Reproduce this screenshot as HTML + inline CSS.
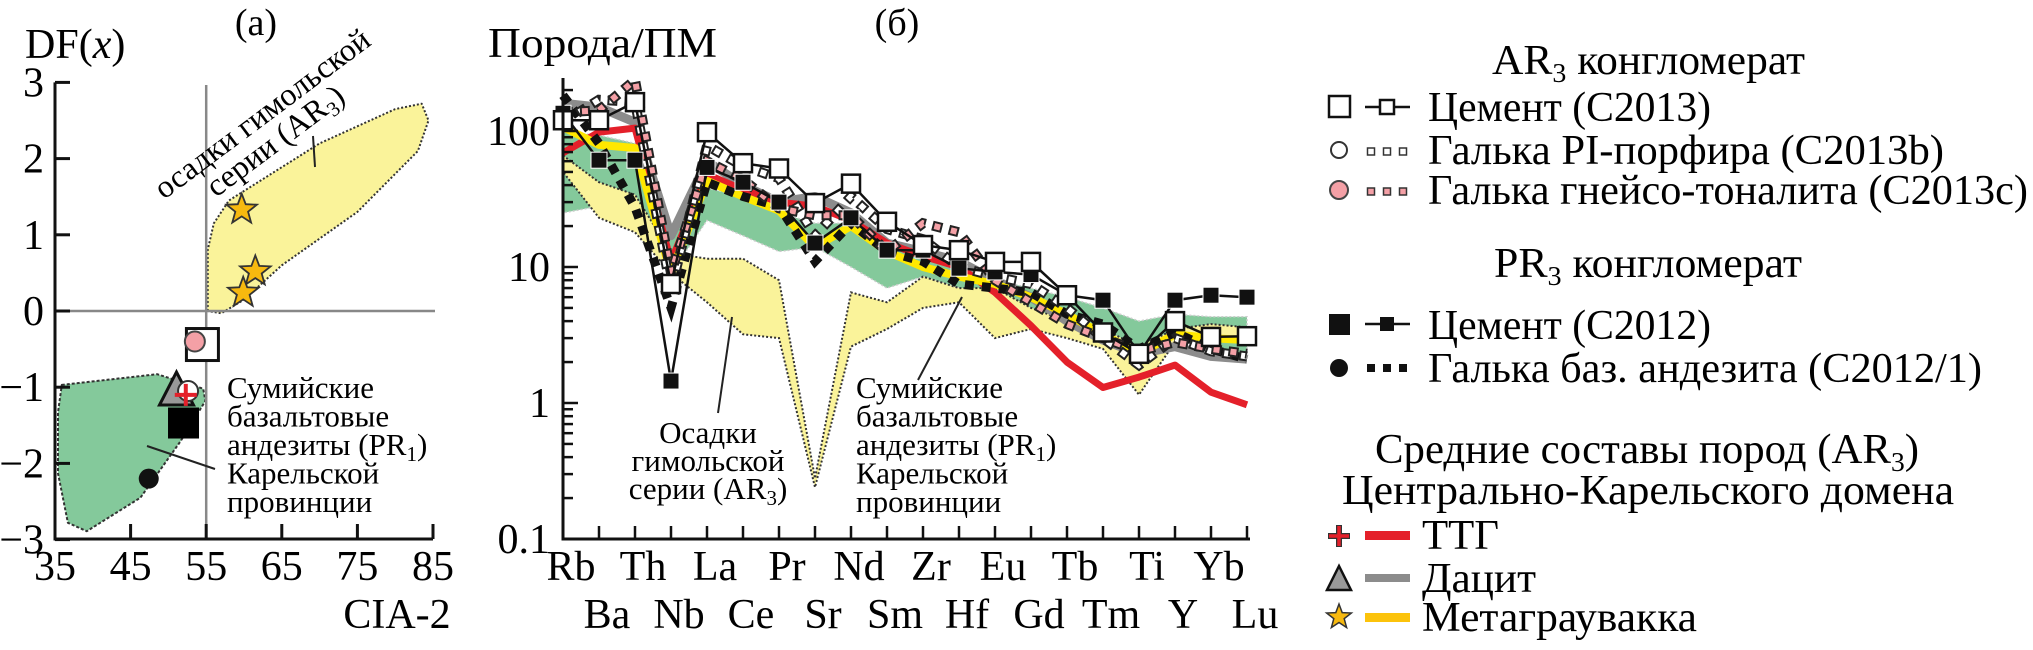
<!DOCTYPE html>
<html><head><meta charset="utf-8"><style>
html,body{margin:0;padding:0;background:#fff;}
svg, svg text{font-family:"Liberation Serif","DejaVu Serif","Noto Serif CJK SC",serif;}
</style></head><body>
<svg id="fig" width="2033" height="645" viewBox="0 0 2033 645" xmlns="http://www.w3.org/2000/svg" font-family="Liberation Serif, DejaVu Serif, serif">
<g id="pa"></g>
<g id="pb"></g>
<g id="lg"></g>
</svg>
<script>
// ---------- Panel (a) data ----------
const aXTicks = [35,45,55,65,75,85];
const aYTicks = [3,2,1,0,-1,-2,-3];
const yellowFieldA = [[55.2,0],[55.2,0.8],[56,1.15],[58,1.45],[70,2.2],[80,2.65],[83.5,2.72],[84.4,2.5],[83,2.1],[75,1.3],[65,0.6],[60,0.15],[57,-0.03]];
const greenFieldA = [[35.9,-0.97],[48.5,-0.83],[54.6,-1.02],[54.9,-1.18],[51.6,-1.71],[46.3,-2.45],[39.2,-2.89],[36.7,-2.78],[35.4,-2.13],[35.4,-1.33]];
const starsA = [[59.7,1.33],[61.5,0.52],[59.9,0.24]];
const openSquareA = [54.5,-0.44];
const pinkCircleA = [53.5,-0.4];
const triangleA = [51.2,-1.05];
const openCircleA = [52.6,-1.05];
const crossA = [52.3,-1.1];
const blackSquareA = [52,-1.47];
const blackCircleA = [47.4,-2.2];

// ---------- Panel (b) data ----------
const elements = ["Rb","Ba","Th","Nb","La","Ce","Pr","Sr","Nd","Sm","Zr","Hf","Eu","Gd","Tb","Tm","Ti","Y","Yb","Lu"];
const cement2013 = [120,120,163,7.5,98,58,53,29.5,41,21.5,14.5,13.3,10.9,10.9,6.2,3.3,2.3,4.0,3.06,3.1];
const cement2012 = [135,61,61,1.45,54,42,30,15,23,13.3,13.3,9.8,9.2,8.8,6.2,5.7,2.3,5.7,6.2,6.0];
const porphyry = [116,170,163,6.8,78,55,45,17,33,19,16,10,8.5,7.5,5,3,1.9,3,2.4,2.2];
const tonalite = [137,142,237,9,60,44,27,24,24,13,21,18,8,5.5,3.8,3.0,2.4,2.8,2.5,2.3];
const andesite = [183,81,27.5,5,42,33,28,11,21,13,11,7.5,7,6.5,4.5,3.8,2.5,3.3,2.5,2.1];
const ttg = [69,98,105,11,48,37,30,28,22,15,12,10,6.5,3.7,2.0,1.3,1.55,1.9,1.2,0.97];
const dacite = [160,150,116,17,60,40,30,33,25,15,13,11,8,6,4,2.9,2.3,2.6,2.2,2.1];
const graywacke = [107,79,75,9,43,33,26,14,20,13,10,8.5,7.5,6,4.5,3.2,2.3,3.2,3,2.9];
const greenUpper = [98,93,81,17,38,33,25,21,21,14,12,11,8,7,6,5,4,4.5,4.3,4.3];
const greenLower = [25,28,27,9,22,17,13,14,10,7,8.5,7,3.5,5,3.5,2.5,2.2,3,2.5,2.2];
const yellowUpper = [66,42,34,12.7,11.5,11.5,8,0.28,6.5,5.5,8.5,7,7,5,4,3.5,2.6,3.5,3.8,3.6];
const yellowLower = [50,23,18,9,5.5,3.2,3.0,0.24,2.6,3.5,5,5.5,3,3.5,3,2.5,1.15,2.8,2.9,2.8];
const yMajorTicks = [0.1,1,10,100];
const yTickLabels = ["0.1","1","10","100"];

const NS="http://www.w3.org/2000/svg";
const FF="Liberation Serif, DejaVu Serif, serif";
function mk(parent,tag,attrs,text){const e=document.createElementNS(NS,tag);for(const k in attrs)e.setAttribute(k,attrs[k]);if(tag==='text')e.setAttribute('font-family',FF);if(text!==undefined)e.textContent=text;parent.appendChild(e);return e;}

// ---------- Panel (a) ----------
const pa=document.getElementById('pa');
const ax=v=>55+(v-35)*7.56, ay=v=>311-v*76.2;
const ptsA=arr=>arr.map(p=>ax(p[0]).toFixed(1)+","+ay(p[1]).toFixed(1)).join(" ");
let e;
e=mk(pa,'polygon',{points:ptsA(yellowFieldA),fill:'#faf39a',stroke:'#333','stroke-width':2,'stroke-dasharray':'2 2','stroke-linejoin':'round'});


e=mk(pa,'polygon',{points:ptsA(greenFieldA),fill:'#84c99b',stroke:'#333','stroke-width':2,'stroke-dasharray':'3 2','stroke-linejoin':'round'});


e=mk(pa,'line',{x1:ax(55),y1:85,x2:ax(55),y2:539,stroke:'#888','stroke-width':2.5});


e=mk(pa,'line',{x1:55,y1:ay(0),x2:435,y2:ay(0),stroke:'#888','stroke-width':2.5});


e=mk(pa,'path',{d:`M55,${ay(3)} L55,539 L${ax(85)},539`,fill:'none',stroke:'#111','stroke-width':3});


aXTicks.forEach(t=>{
  e=mk(pa,'line',{x1:ax(t),y1:539,x2:ax(t),y2:524,stroke:'#111','stroke-width':3});
  
  
  e=mk(pa,'text',{x:ax(t),y:580,'font-size':42,'text-anchor':'middle'},String(t));
  
  
});
aYTicks.forEach(t=>{
  e=mk(pa,'line',{x1:55,y1:ay(t),x2:70,y2:ay(t),stroke:'#111','stroke-width':3});
  
  
  e=mk(pa,'text',{x:44,y:ay(t)+14,'font-size':42,'text-anchor':'end'},t<0?'\u2212'+(-t):String(t));
  
  
});
e=mk(pa,'text',{x:25,y:58,'font-size':42});
e.innerHTML='DF(<tspan font-style="italic">x</tspan>)';


e=mk(pa,'text',{x:397,y:628,'font-size':42,'text-anchor':'middle'},'CIA-2');


e=mk(pa,'text',{x:256,y:35,'font-size':38,'text-anchor':'middle'},'(a)');


e=mk(pa,'text',{x:0,y:0,'font-size':32,transform:'translate(164,200) rotate(-36.8)'},'осадки гимольской');


e=mk(pa,'text',{x:0,y:0,'font-size':32,transform:'translate(216,198) rotate(-36.8)'});
e.innerHTML='серии (AR<tspan font-size="21" dy="6">3</tspan><tspan dy="-6">)</tspan>';


e=mk(pa,'line',{x1:313,y1:136,x2:315,y2:167,stroke:'#222','stroke-width':2});


e=mk(pa,'line',{x1:147,y1:446,x2:215,y2:469,stroke:'#222','stroke-width':2});


["Сумийские","базальтовые","андезиты","Карельской","провинции"].forEach((s,i)=>{
  e=mk(pa,'text',{x:227,y:398+i*28.5,'font-size':31});
  if(i===2) e.innerHTML='андезиты (PR<tspan font-size="21" dy="6">1</tspan><tspan dy="-6">)</tspan>'; else e.textContent=s;
  
  
});
function star(cx,cy,R){let p=[];for(let i=0;i<10;i++){const r=i%2?R*0.42:R;const a=-Math.PI/2+i*Math.PI/5;p.push((cx+r*Math.cos(a)).toFixed(1)+","+(cy+r*Math.sin(a)).toFixed(1));}return p.join(" ");}
starsA.forEach(s=>{
  e=mk(pa,'polygon',{points:star(ax(s[0]),ay(s[1]),16),fill:'#f7b90f',stroke:'#333','stroke-width':1.8});
  
  
});
e=mk(pa,'rect',{x:ax(openSquareA[0])-16,y:ay(openSquareA[1])-16,width:32,height:32,fill:'#fff',stroke:'#111','stroke-width':3});


e=mk(pa,'circle',{cx:ax(pinkCircleA[0]),cy:ay(pinkCircleA[1]),r:10,fill:'#f4a0a6',stroke:'#444','stroke-width':2});


{const cx=ax(triangleA[0]),cy=ay(triangleA[1]);
e=mk(pa,'polygon',{points:`${cx-1},${cy-19} ${cx-18},${cy+14} ${cx+16},${cy+14}`,fill:'#999',stroke:'#111','stroke-width':3});

}
e=mk(pa,'circle',{cx:ax(openCircleA[0]),cy:ay(openCircleA[1]),r:10,fill:'#fff',stroke:'#333','stroke-width':2});


{const cx=ax(crossA[0]),cy=ay(crossA[1]);
e=mk(pa,'path',{d:`M${cx-11},${cy} H${cx+11} M${cx},${cy-11} V${cy+11}`,stroke:'#e4202a','stroke-width':4});

}
e=mk(pa,'rect',{x:ax(blackSquareA[0])-15.5,y:ay(blackSquareA[1])-15.5,width:31,height:31,fill:'#000'});


e=mk(pa,'circle',{cx:ax(blackCircleA[0]),cy:ay(blackCircleA[1]),r:10,fill:'#111'});



// ---------- Panel (b) ----------
const pb=document.getElementById('pb');
const bx=i=>563+i*36, by=v=>403-136*Math.log10(v);
const line=arr=>arr.map((v,i)=>(i?"L":"M")+bx(i).toFixed(1)+","+by(v).toFixed(1)).join(" ");
const band=(up,lo)=>line(up)+" "+lo.map((v,i)=>[i,v]).reverse().map(p=>"L"+bx(p[0]).toFixed(1)+","+by(p[1]).toFixed(1)).join(" ")+"Z";
e=mk(pb,'path',{d:band(greenUpper,greenLower),fill:'#84c99b',stroke:'#ccc','stroke-width':1.5,'stroke-dasharray':'2 2'});


e=mk(pb,'path',{d:band(yellowUpper,yellowLower),fill:'#faf39a',stroke:'#333','stroke-width':2,'stroke-dasharray':'2 2'});


e=mk(pb,'path',{d:line(dacite),fill:'none',stroke:'#8c8c8c','stroke-width':9,'stroke-linejoin':'round'});


e=mk(pb,'path',{d:line(ttg),fill:'none',stroke:'#e4202a','stroke-width':7,'stroke-linejoin':'round'});


e=mk(pb,'path',{d:line(graywacke),fill:'none',stroke:'#ffe800','stroke-width':8,'stroke-linejoin':'round'});


e=mk(pb,'path',{d:line(andesite),fill:'none',stroke:'#111','stroke-width':9,'stroke-dasharray':'9 8'});


[[porphyry,'#fff','porphyry-line'],[tonalite,'#f4a0a6','tonalite-line']].forEach(s=>{
  e=mk(pb,'path',{d:line(s[0]),fill:'none',stroke:'#222','stroke-width':10,'stroke-dasharray':'10 7'});
  
  
  e=mk(pb,'path',{d:line(s[0]),fill:'none',stroke:s[1],'stroke-width':6,'stroke-dasharray':'6 11','stroke-dashoffset':-2});
  
  
});
e=mk(pb,'path',{d:line(cement2012),fill:'none',stroke:'#111','stroke-width':2.5});


cement2012.forEach((v,i)=>{
  e=mk(pb,'rect',{x:bx(i)-8,y:by(v)-8,width:16,height:16,fill:'#111',stroke:'#fff','stroke-width':1});
  
  
});
e=mk(pb,'path',{d:line(cement2013),fill:'none',stroke:'#111','stroke-width':2.5});


cement2013.forEach((v,i)=>{
  e=mk(pb,'rect',{x:bx(i)-9,y:by(v)-9,width:18,height:18,fill:'#fff',stroke:'#111','stroke-width':2.5});
  
  
});
e=mk(pb,'path',{d:`M563,78 L563,539 L1250,539`,fill:'none',stroke:'#111','stroke-width':3});


for(let d=-1;d<=2;d++){for(let m=1;m<=9;m++){const v=m*Math.pow(10,d);const y=by(v);if(y<80)continue;
  e=mk(pb,'line',{x1:563,y1:y,x2:563+(m===1?15:10),y2:y,stroke:'#111','stroke-width':2.5});
  
  }}
yMajorTicks.forEach((v,i)=>{
  e=mk(pb,'text',{x:550,y:by(v)+14,'font-size':42,'text-anchor':'end'},yTickLabels[i]);
  
  
});
elements.forEach((el,i)=>{
  e=mk(pb,'line',{x1:bx(i),y1:539,x2:bx(i),y2:526,stroke:'#111','stroke-width':2.5});
  
  
  e=mk(pb,'text',{x:bx(i)+8,y:i%2?628:580,'font-size':42,'text-anchor':'middle'},el);
  
  
});
e=mk(pb,'text',{x:488,y:57,'font-size':42,textLength:229,lengthAdjust:'spacingAndGlyphs'},'Порода/ПМ');


e=mk(pb,'text',{x:897,y:35,'font-size':38,'text-anchor':'middle'},'(б)');


e=mk(pb,'line',{x1:718,y1:413,x2:732,y2:317,stroke:'#222','stroke-width':2});


e=mk(pb,'line',{x1:918,y1:380,x2:962,y2:297,stroke:'#222','stroke-width':2});


["Осадки","гимольской","серии"].forEach((s,i)=>{
  e=mk(pb,'text',{x:708,y:443+i*28,'font-size':31,'text-anchor':'middle'});
  if(i===2) e.innerHTML='серии (AR<tspan font-size="21" dy="6">3</tspan><tspan dy="-6">)</tspan>'; else e.textContent=s;
  
  
});
["Сумийские","базальтовые","андезиты","Карельской","провинции"].forEach((s,i)=>{
  e=mk(pb,'text',{x:856,y:398+i*28.5,'font-size':31});
  if(i===2) e.innerHTML='андезиты (PR<tspan font-size="21" dy="6">1</tspan><tspan dy="-6">)</tspan>'; else e.textContent=s;
  
  
});

// ---------- Legend ----------
const lg=document.getElementById('lg');
function t(x,y,html,anchor,name,len){const a={x:x,y:y,'font-size':42,'text-anchor':anchor||'start'};if(len){a.textLength=len;a.lengthAdjust='spacingAndGlyphs';}
  e=mk(lg,'text',a);e.innerHTML=html;
  
  }
const sub=n=>`<tspan font-size="27" dy="8">${n}</tspan><tspan dy="-8">`;
t(1492,74,'AR'+sub(3)+' конгломерат</tspan>','start','legend-header-ar3',313);
t(1428,121,'Цемент (С2013)','start','legend-cement-2013',283);
t(1428,164,'Галька PI-порфира (С2013b)','start','legend-porphyry',516);
t(1428,204,'Галька гнейсо-тоналита (С2013с)','start','legend-tonalite',600);
t(1494,277,'PR'+sub(3)+' конгломерат</tspan>','start','legend-header-pr3',308);
t(1428,339,'Цемент (С2012)','start','legend-cement-2012',283);
t(1428,382,'Галька баз. андезита (С2012/1)','start','legend-andesite',554);
t(1375,463,'Средние составы пород (AR'+sub(3)+')</tspan>','start','legend-header-avg',544);
t(1342,504,'Центрально-Карельского домена','start','legend-header-avg2',612);
t(1422,549,'ТТГ','start','legend-ttg',77);
t(1422,592,'Дацит','start','legend-dacite',114);
t(1422,631,'Метаграувакка','start','legend-metagraywacke',275);
function g(tag,a,name){e=mk(lg,tag,a);}
g('rect',{x:1329,y:96,width:21,height:21,fill:'#fff',stroke:'#111','stroke-width':2.5},'legend-sym-cement-2013');
g('line',{x1:1365,y1:107,x2:1410,y2:107,stroke:'#111','stroke-width':2.5},'legend-line-cement-2013');
g('rect',{x:1380,y:100,width:14,height:14,fill:'#fff',stroke:'#111','stroke-width':2.5},'legend-mark-cement-2013');
g('circle',{cx:1339,cy:150,r:8,fill:'#fff',stroke:'#333','stroke-width':2},'legend-sym-porphyry');
g('circle',{cx:1339,cy:190,r:9,fill:'#f4a0a6',stroke:'#444','stroke-width':2},'legend-sym-tonalite');
[1371,1387,1403].forEach(x=>{
  g('rect',{x:x-3.5,y:148,width:7,height:7,fill:'#fff',stroke:'#333','stroke-width':1.5},'legend-dot-porphyry');
  g('rect',{x:x-3.5,y:188,width:7,height:7,fill:'#f4a0a6',stroke:'#333','stroke-width':1.5},'legend-dot-tonalite');
  g('rect',{x:x-4,y:364,width:8,height:8,fill:'#111'},'legend-dot-andesite');
});
g('rect',{x:1329,y:314,width:21,height:21,fill:'#111'},'legend-sym-cement-2012');
g('line',{x1:1365,y1:324,x2:1410,y2:324,stroke:'#111','stroke-width':2.5},'legend-line-cement-2012');
g('rect',{x:1380,y:317,width:14,height:14,fill:'#111'},'legend-mark-cement-2012');
g('circle',{cx:1339,cy:368,r:9,fill:'#111'},'legend-sym-andesite');
g('path',{d:'M1328,536 H1350 M1339,525 V547',stroke:'#333','stroke-width':6},'legend-cross-outline');
g('path',{d:'M1329,536 H1349 M1339,526 V546',stroke:'#e4202a','stroke-width':3.5},'legend-sym-ttg');
g('rect',{x:1365,y:531,width:45,height:9,fill:'#e4202a'},'legend-line-ttg');
g('polygon',{points:'1339,566 1327,590 1351,590',fill:'#999',stroke:'#111','stroke-width':2.5},'legend-sym-dacite');
g('rect',{x:1365,y:574,width:45,height:8,fill:'#8c8c8c'},'legend-line-dacite');
g('polygon',{points:star(1339,617,13),fill:'#f7b90f',stroke:'#333','stroke-width':1.5},'legend-sym-metagraywacke');
g('rect',{x:1365,y:613,width:45,height:9,fill:'#fcc30b'},'legend-line-metagraywacke');
</script>
</body></html>
